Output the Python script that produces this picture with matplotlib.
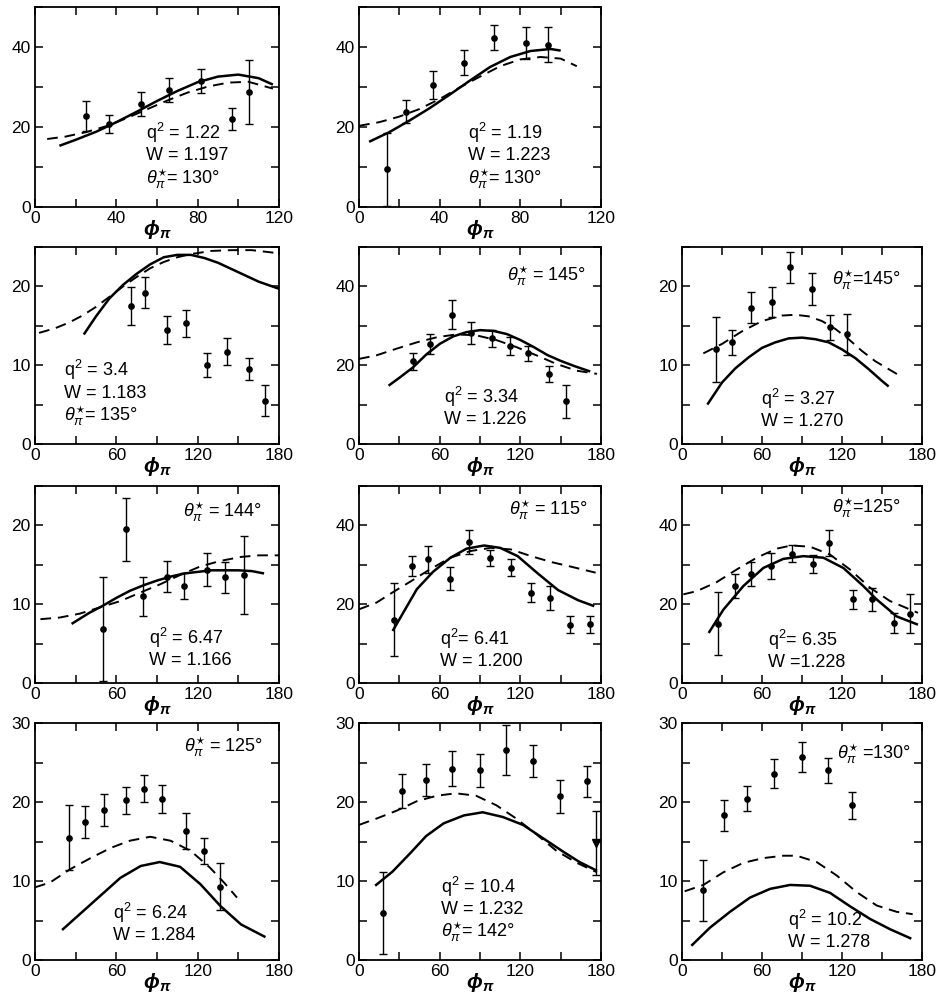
import numpy as np
import matplotlib
matplotlib.use("Agg")
import matplotlib.pyplot as plt
from matplotlib.ticker import MultipleLocator
from matplotlib import font_manager

plt.rcParams['font.family'] = ['Liberation Sans', 'DejaVu Sans']
_names = {f.name for f in font_manager.fontManager.ttflist}
NARROW = 'Liberation Sans Narrow' if 'Liberation Sans Narrow' in _names else 'Liberation Sans'
plt.rcParams['mathtext.fontset'] = 'custom'
plt.rcParams['mathtext.rm'] = NARROW
plt.rcParams['mathtext.it'] = NARROW + ':italic'
plt.rcParams['mathtext.bf'] = 'Liberation Sans:bold'
plt.rcParams['mathtext.bfit'] = 'Liberation Sans:bold:italic'

# ---------------- data (phi_pi in degrees, cross section) ----------------
# Panel 1: q2=1.22, W=1.197
p1_x = [25, 36.5, 52, 66, 81.5, 97, 105.3]
p1_y = [22.8, 20.8, 25.8, 29.3, 31.4, 22.0, 28.7]
p1_e = [3.7, 2.2, 3.0, 3.0, 3.0, 2.8, 8.0]
p1_sx = [12, 20, 30, 40, 50, 60, 70, 80, 90, 100, 110, 117]
p1_sy = [15.3, 16.8, 18.8, 21.2, 23.8, 26.5, 29.0, 31.2, 32.6, 33.1, 32.2, 30.6]
p1_dx = [6, 15, 25, 35, 45, 55, 65, 75, 85, 95, 105, 117]
p1_dy = [17.0, 17.6, 18.7, 20.2, 22.2, 24.4, 26.6, 28.6, 30.1, 31.1, 31.3, 29.6]

# Panel 2: q2=1.19, W=1.223
p2_x = [14.1, 23.2, 36.8, 52.2, 67, 82.8, 93.9]
p2_y = [9.4, 23.8, 30.4, 36.1, 42.3, 40.9, 40.6]
p2_e = [9.2, 2.9, 3.5, 3.2, 3.1, 4.0, 4.4]
p2_sx = [5, 15, 25, 35, 45, 55, 65, 75, 85, 95, 100]
p2_sy = [16.3, 18.7, 21.6, 24.7, 28.1, 31.6, 35.0, 37.5, 39.0, 39.5, 39.1]
p2_dx = [0, 10, 20, 30, 40, 50, 60, 70, 80, 90, 100, 108]
p2_dy = [20.3, 21.2, 22.6, 24.5, 27.0, 29.9, 32.6, 35.2, 36.9, 37.5, 37.1, 35.2]

# Panel 3: q2=3.4, W=1.183
p3_x = [70.7, 81, 97.7, 111.2, 127.2, 142, 157.9, 170]
p3_y = [17.5, 19.2, 14.5, 15.3, 10.0, 11.7, 9.5, 5.5]
p3_e = [2.4, 2.0, 1.8, 1.7, 1.5, 1.7, 1.4, 2.0]
p3_sx = [36, 45, 55, 65, 75, 85, 95, 105, 115, 125, 135, 145, 155, 165, 175, 180]
p3_sy = [13.9, 16.2, 18.5, 20.2, 21.6, 22.8, 23.7, 24.0, 24.0, 23.6, 23.0, 22.2, 21.4, 20.6, 20.0, 19.7]
p3_dx = [3, 15, 25, 35, 45, 55, 65, 75, 85, 95, 105, 115, 130, 145, 160, 180]
p3_dy = [14.1, 14.7, 15.4, 16.3, 17.4, 18.7, 20.0, 21.2, 22.3, 23.1, 23.7, 24.1, 24.5, 24.6, 24.6, 24.2]

# Panel 4: q2=3.34, W=1.226
p4_x = [40.2, 53.1, 69.5, 83.2, 98.6, 112.2, 125.9, 141.5, 153.9]
p4_y = [21.0, 25.3, 32.8, 28.2, 26.8, 24.9, 23.0, 17.7, 10.9]
p4_e = [2.2, 2.5, 3.7, 2.7, 2.2, 2.2, 2.0, 2.0, 4.2]
p4_sx = [22, 30, 40, 50, 60, 70, 80, 90, 100, 110, 120, 130, 140, 150, 160, 172]
p4_sy = [14.8, 16.8, 19.4, 22.7, 25.4, 27.3, 28.4, 28.9, 28.7, 27.9, 26.4, 24.6, 22.6, 21.1, 19.8, 18.4]
p4_dx = [0, 13, 28, 43, 58, 72, 87, 102, 117, 132, 147, 162, 177]
p4_dy = [21.6, 22.5, 24.2, 25.8, 27.1, 27.8, 27.6, 26.4, 24.6, 22.5, 20.3, 18.6, 17.8]

# Panel 5: q2=3.27, W=1.270
p5_x = [25.75, 37.5, 52, 67.5, 81.25, 97.5, 111.25, 123.75]
p5_y = [12.0, 12.9, 17.3, 18.0, 22.4, 19.7, 14.8, 13.9]
p5_e = [4.1, 1.6, 2.0, 1.9, 2.0, 2.0, 1.6, 2.6]
p5_sx = [19, 30, 40, 50, 60, 70, 80, 90, 100, 110, 120, 130, 140, 150, 155]
p5_sy = [5.0, 7.8, 9.6, 11.0, 12.2, 12.9, 13.4, 13.5, 13.3, 12.9, 12.0, 10.9, 9.5, 8.0, 7.3]
p5_dx = [16, 30, 45, 60, 75, 85, 95, 105, 115, 125, 135, 145, 155, 162]
p5_dy = [11.5, 12.7, 14.3, 15.6, 16.3, 16.4, 16.2, 15.6, 14.6, 13.3, 11.8, 10.5, 9.5, 8.8]

# Panel 6: q2=6.47, W=1.166
p6_x = [49.8, 67.3, 79.6, 97.4, 109.7, 127, 140.5, 154]
p6_y = [6.8, 19.5, 11.0, 13.5, 12.3, 14.4, 13.4, 13.7]
p6_e = [6.6, 4.0, 2.5, 2.0, 1.6, 2.1, 2.0, 5.0]
p6_sx = [27, 40, 50, 60, 70, 80, 90, 100, 110, 120, 130, 140, 150, 160, 169]
p6_sy = [7.5, 8.9, 9.8, 10.8, 11.7, 12.4, 13.0, 13.5, 13.9, 14.1, 14.3, 14.3, 14.3, 14.2, 13.9]
p6_dx = [4, 18, 33, 48, 63, 78, 92, 107, 122, 137, 152, 165, 180]
p6_dy = [8.1, 8.3, 8.8, 9.6, 10.4, 11.5, 12.5, 13.7, 14.8, 15.5, 16.0, 16.2, 16.2]

# Panel 7: q2=6.41, W=1.200
p7_x = [25.9, 39.6, 51.1, 67.8, 81.5, 97.7, 112.7, 127.7, 141.9, 157.1, 171.8]
p7_y = [16.1, 29.7, 31.4, 26.5, 35.8, 31.7, 29.3, 22.9, 21.6, 14.8, 14.9]
p7_e = [9.2, 2.5, 3.4, 3.0, 3.0, 2.0, 2.1, 2.4, 3.0, 2.1, 2.2]
p7_sx = [25, 33, 43, 55, 68, 80, 93, 105, 118, 133, 148, 163, 175]
p7_sy = [13.2, 17.9, 23.8, 28.2, 31.8, 34.1, 34.9, 34.3, 32.2, 27.8, 23.6, 21.0, 19.5]
p7_dx = [0, 13, 25, 38, 53, 68, 83, 98, 113, 128, 143, 158, 176]
p7_dy = [18.7, 20.4, 23.0, 25.7, 28.9, 31.8, 33.5, 34.3, 33.9, 32.2, 30.7, 29.5, 28.0]

# Panel 8: q2=6.35, W=1.228
p8_x = [26.75, 40, 51.75, 67, 82.5, 98.25, 110.5, 128.25, 142.5, 158.75, 170.75]
p8_y = [15.0, 24.6, 27.6, 29.7, 32.8, 30.2, 35.5, 21.2, 21.2, 15.3, 17.6]
p8_e = [8.0, 3.0, 3.1, 3.2, 2.1, 2.4, 3.3, 2.5, 3.0, 2.5, 4.9]
p8_sx = [20, 31, 46, 61, 76, 91, 106, 121, 136, 146, 161, 177]
p8_sy = [12.7, 18.6, 24.6, 29.2, 31.5, 32.2, 31.8, 29.2, 24.6, 21.2, 16.9, 14.8]
p8_dx = [1, 11, 26, 41, 56, 71, 82, 96, 111, 126, 141, 156, 177]
p8_dy = [22.5, 23.3, 25.6, 28.8, 31.8, 34.1, 34.9, 34.6, 32.6, 28.8, 24.2, 20.8, 17.8]

# Panel 9: q2=6.24, W=1.284
p9_x = [25.1, 37, 51, 67.3, 80.6, 93.7, 111.7, 125, 136.8]
p9_y = [15.5, 17.5, 19.0, 20.2, 21.7, 20.4, 16.3, 13.8, 9.3]
p9_e = [4.1, 2.0, 2.0, 1.7, 1.7, 1.8, 2.3, 1.6, 3.0]
p9_sx = [20, 33, 48, 63, 78, 92, 107, 122, 137, 152, 170]
p9_sy = [3.8, 5.8, 8.1, 10.4, 11.9, 12.4, 11.8, 9.6, 6.8, 4.5, 2.9]
p9_dx = [0, 11, 26, 41, 56, 70, 85, 100, 115, 129, 140, 149]
p9_dy = [9.2, 9.8, 11.5, 12.9, 14.2, 15.1, 15.6, 15.1, 13.8, 11.7, 9.7, 7.9]

# Panel 10: q2=10.4, W=1.232
p10_x = [17.9, 32, 50.1, 69.3, 89.9, 109.2, 129.1, 149.4, 169.3]
p10_y = [5.9, 21.4, 22.8, 24.2, 24.0, 26.6, 25.2, 20.7, 22.6]
p10_e = [5.2, 2.1, 2.0, 2.2, 2.1, 3.2, 2.0, 2.1, 2.0]
p10_tx = [176]
p10_ty = [14.8]
p10_te = [4.0]
p10_sx = [12, 25, 38, 50, 63, 78, 92, 107, 122, 137, 152, 164, 177]
p10_sy = [9.4, 11.2, 13.5, 15.7, 17.3, 18.3, 18.7, 18.1, 17.1, 15.4, 13.7, 12.4, 11.3]
p10_dx = [0, 13, 28, 43, 58, 72, 87, 102, 117, 132, 147, 162, 177]
p10_dy = [17.1, 17.9, 18.9, 20.1, 20.8, 21.1, 20.8, 19.6, 17.9, 15.9, 13.8, 12.3, 11.1]

# Panel 11: q2=10.2, W=1.278
p11_x = [15.75, 31.75, 48.75, 68.75, 90, 109.25, 127.5]
p11_y = [8.8, 18.3, 20.4, 23.6, 25.7, 24.0, 19.6]
p11_e = [3.8, 2.0, 1.6, 1.8, 1.9, 1.6, 1.7]
p11_sx = [7, 21, 36, 51, 66, 81, 96, 111, 126, 141, 156, 172]
p11_sy = [1.8, 4.1, 6.1, 7.9, 9.0, 9.5, 9.4, 8.5, 6.8, 5.2, 3.9, 2.7]
p11_dx = [2, 16, 31, 46, 61, 76, 86, 101, 116, 131, 146, 161, 173]
p11_dy = [8.7, 9.5, 11.1, 12.3, 12.9, 13.2, 13.2, 12.4, 10.7, 8.6, 6.9, 6.1, 5.8]

TH = r"$\theta^{\star}_{\pi}$"
p1_text = ["q$^2$ = 1.22", "W = 1.197", TH + "= 130°"]
p2_text = ["q$^2$ = 1.19", "W = 1.223", TH + "= 130°"]
p3_text = ["q$^2$ = 3.4", "W = 1.183", TH + "= 135°"]
p4_text = ["q$^2$ = 3.34", "W = 1.226"]
p5_text = ["q$^2$ = 3.27", "W = 1.270"]
p6_text = ["q$^2$ = 6.47", "W = 1.166"]
p7_text = ["q$^2$= 6.41", "W = 1.200"]
p8_text = ["q$^2$= 6.35", "W =1.228"]
p9_text = ["q$^2$ = 6.24", "W = 1.284"]
p10_text = ["q$^2$ = 10.4", "W = 1.232", TH + "= 142°"]
p11_text = ["q$^2$ = 10.2", "W = 1.278"]
p4_theta = TH + " = 145°"
p5_theta = TH + "=145°"
p6_theta = TH + " = 144°"
p7_theta = TH + " = 115°"
p8_theta = TH + "=125°"
p9_theta = TH + " = 125°"
p11_theta = TH + " =130°"

# ---------------- layout ----------------
W, H = 937.0, 994.0
col_l = [35, 359, 682]
col_w = [244, 242, 240]
row_t = [7, 247, 486, 723]
row_b = [207, 444, 683, 960]

panels = [
    (0, 0, p1_x, p1_y, p1_e, p1_sx, p1_sy, p1_dx, p1_dy, 120, 50, p1_text, (0.455, 0.37), None, None),
    (0, 1, p2_x, p2_y, p2_e, p2_sx, p2_sy, p2_dx, p2_dy, 120, 50, p2_text, (0.45, 0.37), None, None),
    (1, 0, p3_x, p3_y, p3_e, p3_sx, p3_sy, p3_dx, p3_dy, 180, 25, p3_text, (0.12, 0.375), None, None),
    (1, 1, p4_x, p4_y, p4_e, p4_sx, p4_sy, p4_dx, p4_dy, 180, 50, p4_text, (0.35, 0.24), p4_theta, (0.775, 0.85)),
    (1, 2, p5_x, p5_y, p5_e, p5_sx, p5_sy, p5_dx, p5_dy, 180, 25, p5_text, (0.33, 0.23), p5_theta, (0.77, 0.83)),
    (2, 0, p6_x, p6_y, p6_e, p6_sx, p6_sy, p6_dx, p6_dy, 180, 25, p6_text, (0.466, 0.23), p6_theta, (0.77, 0.87)),
    (2, 1, p7_x, p7_y, p7_e, p7_sx, p7_sy, p7_dx, p7_dy, 180, 50, p7_text, (0.335, 0.226), p7_theta, (0.785, 0.88)),
    (2, 2, p8_x, p8_y, p8_e, p8_sx, p8_sy, p8_dx, p8_dy, 180, 50, p8_text, (0.36, 0.22), p8_theta, (0.77, 0.89)),
    (3, 0, p9_x, p9_y, p9_e, p9_sx, p9_sy, p9_dx, p9_dy, 180, 30, p9_text, (0.32, 0.20), p9_theta, (0.774, 0.90)),
    (3, 1, p10_x, p10_y, p10_e, p10_sx, p10_sy, p10_dx, p10_dy, 180, 30, p10_text, (0.34, 0.31), None, None),
    (3, 2, p11_x, p11_y, p11_e, p11_sx, p11_sy, p11_dx, p11_dy, 180, 30, p11_text, (0.44, 0.17), p11_theta, (0.80, 0.87)),
]

fig = plt.figure(figsize=(W / 100, H / 100), dpi=100)

for (r, c, x, y, e, sx, sy, dx, dy, xmax, ymax, text, tpos, theta, thpos) in panels:
    left = col_l[c] / W
    bottom = 1 - row_b[r] / H
    width = col_w[c] / W
    height = (row_b[r] - row_t[r]) / H
    ax = fig.add_axes([left, bottom, width, height])
    ax.plot(sx, sy, color='k', lw=1.8, solid_capstyle='butt')
    ax.plot(dx, dy, color='k', lw=1.4, linestyle=(0, (5.5, 3.5)))
    ax.errorbar(x, y, yerr=e, fmt='o', color='k', ms=3.8, capsize=2.6,
                elinewidth=1.0, capthick=1.0)
    if r == 3 and c == 1:
        ax.errorbar(p10_tx, p10_ty, yerr=p10_te, fmt='v', color='k', ms=6,
                    capsize=2.6, elinewidth=1.0, capthick=1.0)
    ax.set_xlim(0, xmax)
    ax.set_ylim(0, ymax)
    if xmax == 120:
        ax.xaxis.set_major_locator(MultipleLocator(40))
        ax.xaxis.set_minor_locator(MultipleLocator(20))
    else:
        ax.xaxis.set_major_locator(MultipleLocator(60))
        ax.xaxis.set_minor_locator(MultipleLocator(30))
    if ymax == 50:
        ax.yaxis.set_major_locator(MultipleLocator(20))
        ax.yaxis.set_minor_locator(MultipleLocator(10))
    else:
        ax.yaxis.set_major_locator(MultipleLocator(10))
        ax.yaxis.set_minor_locator(MultipleLocator(5))
    ax.tick_params(which='both', direction='in', top=True, right=True,
                   length=6, width=1.1, labelsize=12.5, pad=3)
    for sp in ax.spines.values():
        sp.set_linewidth(1.3)
    ax.annotate(r"$\mathbfit{\phi}_{\mathbfit{\pi}}$", xy=(0.5, 0), xycoords='axes fraction',
                xytext=(0, -16), textcoords='offset points', ha='center', va='center',
                fontsize=15)
    for i, line in enumerate(text):
        ax.annotate(line, xy=tpos, xycoords='axes fraction',
                    xytext=(0, -16.5 * i), textcoords='offset points',
                    ha='left', va='center', fontsize=13, family=NARROW)
    if theta is not None:
        ax.annotate(theta, xy=thpos, xycoords='axes fraction', ha='center',
                    va='center', fontsize=13, family=NARROW)

fig.savefig("out.png", dpi=100)
